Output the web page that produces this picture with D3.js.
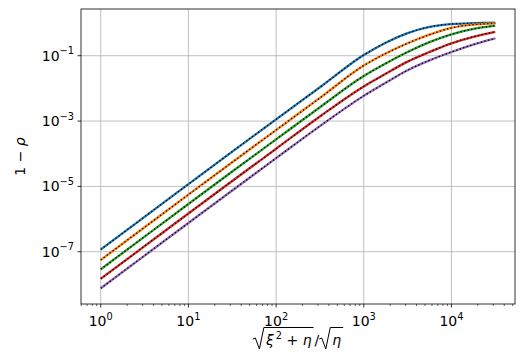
<!DOCTYPE html>
<html>
<head>
<meta charset="utf-8">
<script src="https://cdn.jsdelivr.net/npm/d3@7"></script>
<style>
  body { margin: 0; background: #fff; }
  text { font-family: 'DejaVu Sans', sans-serif; fill: #000; }
</style>
</head>
<body>
<div class="vis-chart"></div>
<script>
// x values (sqrt(xi^2+eta)/sqrt(eta)) sampled along the curves
const xVals = [1, 3.162, 10, 31.62, 100, 316.2, 1000, 1778, 3162, 5623, 10000, 17783, 31623];

// 1 - rho, one array per curve
const blueVals = [1.17e-7, 1.17e-6, 1.17e-5, 1.16e-4, 1.13e-3, 1.08e-2, 0.105, 0.25, 0.49, 0.76, 0.93, 0.99, 1.02];
const orangeVals = [5.6e-8, 5.6e-7, 5.6e-6, 5.5e-5, 5.3e-4, 5.1e-3, 0.05, 0.117, 0.24, 0.44, 0.71, 0.89, 0.98];
const greenVals = [2.9e-8, 2.9e-7, 2.9e-6, 2.85e-5, 2.75e-4, 2.65e-3, 0.024, 0.058, 0.13, 0.26, 0.45, 0.66, 0.83];
const redVals = [1.48e-8, 1.48e-7, 1.48e-6, 1.46e-5, 1.42e-4, 1.38e-3, 0.0115, 0.028, 0.066, 0.13, 0.24, 0.38, 0.54];
const purpleVals = [7.6e-9, 7.6e-8, 7.6e-7, 7.5e-6, 7.3e-5, 7.0e-4, 5.9e-3, 0.0148, 0.036, 0.072, 0.13, 0.22, 0.34];

const seriesVals = [blueVals, orangeVals, greenVals, redVals, purpleVals];
const colors = ['#1f77b4', '#ff7f0e', '#2ca02c', '#d62728', '#9467bd'];

// tick exponents
const xTickExps = [0, 1, 2, 3, 4];
const yTickExps = [-1, -3, -5, -7];

const W = 527, H = 359;
const margin = { top: 9, right: 12, bottom: 55, left: 81 };
const fs = 14, fsSup = 9.8;

const svg = d3.select('.vis-chart')
    .append('svg')
    .attr('width', W)
    .attr('height', H);

const x = d3.scaleLog()
    .domain([Math.pow(10, -0.225), Math.pow(10, 4.725)])
    .range([margin.left, W - margin.right]);

const y = d3.scaleLog()
    .domain([Math.pow(10, -8.6), Math.pow(10, 0.43)])
    .range([H - margin.bottom, margin.top]);

const x0 = margin.left, x1 = W - margin.right;
const y0 = H - margin.bottom, y1 = margin.top;

// grid
const grid = svg.append('g').attr('stroke', '#b0b0b0').attr('stroke-width', 0.8);
xTickExps.forEach((e) => {
    const px = x(Math.pow(10, e));
    grid.append('line').attr('x1', px).attr('x2', px).attr('y1', y1).attr('y2', y0);
});
yTickExps.forEach((e) => {
    const py = y(Math.pow(10, e));
    grid.append('line').attr('x1', x0).attr('x2', x1).attr('y1', py).attr('y2', py);
});

// clip to axes box
svg.append('clipPath').attr('id', 'clip')
    .append('rect').attr('x', x0).attr('y', y1).attr('width', x1 - x0).attr('height', y0 - y1);

const line = d3.line()
    .x((d) => x(d[0]))
    .y((d) => y(d[1]))
    .curve(d3.curveMonotoneX);

const plot = svg.append('g').attr('clip-path', 'url(#clip)');

seriesVals.forEach((vals, i) => {
    const pts = xVals.map((xv, j) => [xv, vals[j]]);
    plot.append('path')
        .attr('d', line(pts))
        .attr('fill', 'none')
        .attr('stroke', colors[i])
        .attr('stroke-width', 2.3);
    // black dotted overlay
    plot.append('path')
        .attr('d', line(pts))
        .attr('fill', 'none')
        .attr('stroke', '#000')
        .attr('stroke-width', 1.3)
        .attr('stroke-dasharray', '1.3,2.4');
});

// frame
svg.append('rect')
    .attr('x', x0).attr('y', y1)
    .attr('width', x1 - x0).attr('height', y0 - y1)
    .attr('fill', 'none').attr('stroke', '#000').attr('stroke-width', 0.8);

const ticks = svg.append('g').attr('stroke', '#000');

// x major ticks + labels
xTickExps.forEach((e) => {
    const px = x(Math.pow(10, e));
    ticks.append('line').attr('x1', px).attr('x2', px).attr('y1', y0).attr('y2', y0 + 3.5).attr('stroke-width', 0.8);
    const t = svg.append('text')
        .attr('x', px)
        .attr('y', y0 + 22)
        .attr('text-anchor', 'middle')
        .style('font-size', fs + 'px');
    t.append('tspan').text('10');
    t.append('tspan').attr('dy', -6.5).style('font-size', fsSup + 'px').text(String(e));
});

// x minor ticks
for (let d = -1; d <= 4; d++) {
    for (let k = 2; k <= 9; k++) {
        const v = k * Math.pow(10, d);
        if (v < x.domain()[0] || v > x.domain()[1]) continue;
        const px = x(v);
        ticks.append('line').attr('x1', px).attr('x2', px).attr('y1', y0).attr('y2', y0 + 2).attr('stroke-width', 0.6);
    }
}

// y ticks + labels
yTickExps.forEach((e) => {
    const py = y(Math.pow(10, e));
    ticks.append('line').attr('x1', x0 - 3.5).attr('x2', x0).attr('y1', py).attr('y2', py).attr('stroke-width', 0.8);
    const t = svg.append('text')
        .attr('x', x0 - 7)
        .attr('y', py + 5)
        .attr('text-anchor', 'end')
        .style('font-size', fs + 'px');
    t.append('tspan').text('10');
    t.append('tspan').attr('dy', -6.5).style('font-size', fsSup + 'px').text('\u2212' + (-e));
});

// y label
svg.append('text')
    .attr('transform', 'translate(25,' + ((y0 + y1) / 2) + ') rotate(-90)')
    .attr('text-anchor', 'middle')
    .style('font-size', fs + 'px')
    .html('1 \u2212 <tspan font-style="italic">\u03c1</tspan>');

// x label: sqrt(xi^2 + eta) / sqrt(eta), built piece by piece
const xl = svg.append('g');
const base = 345;
let cx = 0;
const piece = (str, opts = {}) => {
    const t = xl.append('text')
        .attr('x', cx)
        .attr('y', base + (opts.dy || 0))
        .style('font-size', (opts.size || fs) + 'px')
        .style('font-style', opts.italic ? 'italic' : 'normal')
        .text(str);
    cx += t.node().getComputedTextLength();
    return t;
};
const radical = (startX, endX) => {
    xl.append('path')
        .attr('d', 'M' + startX + ',' + (base - 6) +
            ' L' + (startX + 2.5) + ',' + (base - 7) +
            ' L' + (startX + 6.5) + ',' + (base + 4) +
            ' L' + (startX + 11) + ',' + (base - 17.5) +
            ' L' + endX + ',' + (base - 17.5))
        .attr('fill', 'none')
        .attr('stroke', '#000')
        .attr('stroke-width', 1);
};
const r1 = cx;
cx += 13;
piece('\u03be', { italic: true });
cx += 2;
piece('2', { size: fsSup, dy: -6.5 });
cx += 4.5;
piece('+');
cx += 4.5;
piece('\u03b7', { italic: true });
cx += 2;
radical(r1, cx);
cx += 1;
piece('/');
const r2 = cx;
cx += 13;
piece('\u03b7', { italic: true });
cx += 2;
radical(r2, cx);
xl.attr('transform', 'translate(' + ((x0 + x1) / 2 - cx / 2) + ',0)');
</script>
</body>
</html>
